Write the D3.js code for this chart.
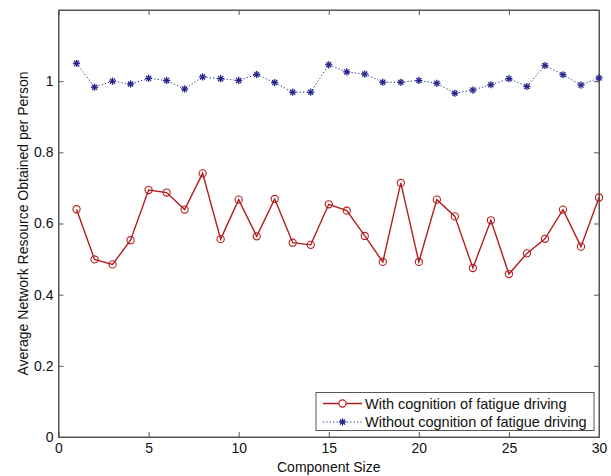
<!DOCTYPE html>
<html>
<head>
<meta charset="utf-8">
<script src="https://cdn.jsdelivr.net/npm/d3@7"></script>
<style>
  body { margin: 0; background: #fff; }
  text { font-family: "Liberation Sans", Arial, sans-serif; }
</style>
</head>
<body>
<script>
// chart data
var sizes = d3.range(1, 31);
var withCognition = [0.640, 0.499, 0.485, 0.553, 0.694, 0.687, 0.639, 0.741, 0.556, 0.667,
                     0.564, 0.669, 0.546, 0.540, 0.654, 0.636, 0.565, 0.492, 0.714, 0.492,
                     0.667, 0.620, 0.475, 0.609, 0.458, 0.516, 0.557, 0.639, 0.535, 0.673];
var withoutCognition = [1.050, 0.983, 1.000, 0.992, 1.008, 1.002, 0.978, 1.012, 1.007, 1.002,
                        1.019, 0.996, 0.969, 0.969, 1.046, 1.026, 1.020, 0.997, 0.997, 1.002,
                        0.994, 0.966, 0.975, 0.990, 1.007, 0.985, 1.044, 1.018, 0.989, 1.009];
var xTicks = [0, 5, 10, 15, 20, 25, 30];
var yTicks = [0, 0.2, 0.4, 0.6, 0.8, 1];
var legendLabels = ["With cognition of fatigue driving", "Without cognition of fatigue driving"];

var width = 611, height = 476;
var plotLeft = 58.5, plotRight = 599, plotTop = 10, plotBottom = 437;
var red = "#b21e1e", blue = "#23238c", axisColor = "#555";

var svg = d3.select("body").append("svg")
    .attr("width", width)
    .attr("height", height);

var x = d3.scaleLinear().domain([0, 30]).range([plotLeft, plotRight]);
var y = d3.scaleLinear().domain([0, 1.2]).range([plotBottom, plotTop]);

// frame
svg.append("rect")
    .attr("x", plotLeft).attr("y", plotTop)
    .attr("width", plotRight - plotLeft).attr("height", plotBottom - plotTop)
    .attr("fill", "none").attr("stroke", axisColor).attr("stroke-width", 1);

// axes, ticks inside like matlab
var xAxis = svg.append("g").attr("transform", "translate(0," + plotBottom + ")")
    .call(d3.axisBottom(x).tickValues(xTicks).tickSizeInner(-5).tickSizeOuter(0).tickPadding(6));
var xTop = svg.append("g").attr("transform", "translate(0," + plotTop + ")")
    .call(d3.axisTop(x).tickValues(xTicks).tickSizeInner(-5).tickSizeOuter(0).tickFormat(""));
var yAxis = svg.append("g").attr("transform", "translate(" + plotLeft + ",0)")
    .call(d3.axisLeft(y).tickValues(yTicks).tickSizeInner(-5).tickSizeOuter(0).tickPadding(5)
        .tickFormat(function(d) { return d === 0 || d === 1 ? String(d) : d3.format(".1f")(d); }));
var yRight = svg.append("g").attr("transform", "translate(" + plotRight + ",0)")
    .call(d3.axisRight(y).tickValues(yTicks).tickSizeInner(-5).tickSizeOuter(0).tickFormat(""));

[xAxis, xTop, yAxis, yRight].forEach(function(g) {
    g.select(".domain").attr("stroke", axisColor);
    g.selectAll(".tick line").attr("stroke", axisColor);
    g.selectAll("text").attr("fill", "#111").style("font-size", "14px")
        .style("font-family", '"Liberation Sans", Arial, sans-serif');
});

// labels
svg.append("text")
    .attr("x", (plotLeft + plotRight) / 2).attr("y", 472)
    .attr("text-anchor", "middle").style("font-size", "14px").attr("fill", "#111")
    .text("Component Size");
svg.append("text")
    .attr("transform", "translate(28," + ((plotTop + plotBottom) / 2) + ") rotate(-90)")
    .attr("text-anchor", "middle").style("font-size", "14px").attr("fill", "#111")
    .text("Average Network Resource Obtained per Person");

var line = d3.line()
    .x(function(d) { return x(d[0]); })
    .y(function(d) { return y(d[1]); });

var redData = sizes.map(function(s, i) { return [s, withCognition[i]]; });
var blueData = sizes.map(function(s, i) { return [s, withoutCognition[i]]; });

svg.append("path").datum(blueData)
    .attr("d", line).attr("fill", "none")
    .attr("stroke", blue).attr("stroke-width", 1).attr("stroke-dasharray", "1.2,2.2");

svg.append("path").datum(redData)
    .attr("d", line).attr("fill", "none")
    .attr("stroke", red).attr("stroke-width", 1.4);

function star(g, cx, cy) {
    var r = 3.6;
    for (var k = 0; k < 4; k++) {
        var a = k * Math.PI / 4;
        g.append("line")
            .attr("x1", cx - r * Math.cos(a)).attr("y1", cy - r * Math.sin(a))
            .attr("x2", cx + r * Math.cos(a)).attr("y2", cy + r * Math.sin(a))
            .attr("stroke", blue).attr("stroke-width", 1.3);
    }
}

var stars = svg.append("g");
blueData.forEach(function(d) { star(stars, x(d[0]), y(d[1])); });

svg.append("g").selectAll("circle")
    .data(redData)
    .enter()
        .append("circle")
        .attr("cx", function(d) { return x(d[0]); })
        .attr("cy", function(d) { return y(d[1]); })
        .attr("r", 3.6)
        .attr("fill", "none")
        .attr("stroke", red)
        .attr("stroke-width", 1.1);

// legend
var lg = svg.append("g");
lg.append("rect")
    .attr("x", 316).attr("y", 392.5).attr("width", 278).attr("height", 38)
    .attr("fill", "#fff").attr("stroke", axisColor).attr("stroke-width", 1);
var rows = [403.5, 422];
lg.append("line").attr("x1", 323).attr("x2", 362).attr("y1", rows[0]).attr("y2", rows[0])
    .attr("stroke", red).attr("stroke-width", 1.4);
lg.append("circle").attr("cx", 342.5).attr("cy", rows[0]).attr("r", 3.6)
    .attr("fill", "#fff").attr("stroke", red).attr("stroke-width", 1.1);
lg.append("line").attr("x1", 323).attr("x2", 362).attr("y1", rows[1]).attr("y2", rows[1])
    .attr("stroke", blue).attr("stroke-width", 1).attr("stroke-dasharray", "1.2,2.2");
star(lg, 342.5, rows[1]);
legendLabels.forEach(function(t, i) {
    lg.append("text").attr("x", 365).attr("y", rows[i]).attr("dy", "0.35em")
        .style("font-size", "14.5px").attr("fill", "#111").text(t);
});
</script>
</body>
</html>
